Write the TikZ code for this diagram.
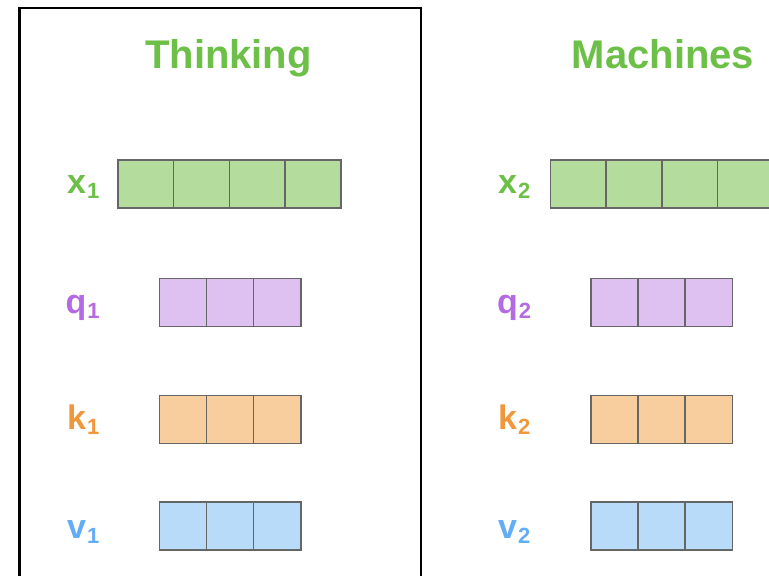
\documentclass[tikz,border=0pt]{standalone}
\usepackage{fontspec}
\setmainfont{Liberation Sans}

\definecolor{xtext}{HTML}{6CBF47}
\definecolor{xfill}{HTML}{B3DC9D}
\definecolor{qtext}{HTML}{B36AE2}
\definecolor{qfill}{HTML}{DFC1F1}
\definecolor{ktext}{HTML}{F0963B}
\definecolor{kfill}{HTML}{F8CE9F}
\definecolor{vtext}{HTML}{62ADF7}
\definecolor{vfill}{HTML}{B9DBFA}
\definecolor{cellborder}{HTML}{666666}

% subscript digit of a vector label
\newcommand\vecsub[1]{\kern1pt\raisebox{-5.5pt}{\fontsize{22}{22}\selectfont #1}}

\begin{document}
\begin{tikzpicture}[x=1pt,y=-1pt,
  title/.style={font=\fontsize{40}{48}\selectfont\bfseries, text=xtext, inner sep=0, anchor=base},
  veclabel/.style={font=\fontsize{34}{40}\selectfont\bfseries, inner sep=0, anchor=base west},
  cell/.style={draw=cellborder, line width=1.5pt, minimum height=48pt, inner sep=0, anchor=north west}]
\useasboundingbox (0,0) rectangle (769,576);
\clip (0,0) rectangle (769,576);

% word frame around the first token
\draw[line width=2.6pt] (19.5,8) rectangle (421,620);

% titles
\node[title] (t1) at (228.5,68) {Thinking};
\node[title] (t2) at (663,68) {Machines};

% embedding vectors (4 cells)
\foreach \name/\left/\fillc in {x1/117/xfill, x2/549.5/xfill}{
  \foreach \i in {0,...,3}{
    \node[cell, fill=\fillc, minimum width=55.8pt] (\name c\i) at ({\left+55.8*\i},159) {};
  }
}

% query, key and value vectors (3 cells)
\foreach \name/\left/\top/\fillc in {q1/158.5/277.5/qfill, k1/158.5/394.5/kfill, v1/158.5/501/vfill,
                                     q2/590/277.5/qfill, k2/590/394.5/kfill, v2/590/501/vfill}{
  \foreach \i in {0,...,2}{
    \node[cell, fill=\fillc, minimum width=47.2pt] (\name c\i) at ({\left+47.2*\i},\top) {};
  }
}

% labels
\node[veclabel, text=xtext] (lx1) at (67,193) {x\vecsub{1}};
\node[veclabel, text=qtext] (lq1) at (65.5,313) {q\vecsub{1}};
\node[veclabel, text=ktext] (lk1) at (67,429) {k\vecsub{1}};
\node[veclabel, text=vtext] (lv1) at (67,538) {v\vecsub{1}};

\node[veclabel, text=xtext] (lx2) at (498,193) {x\vecsub{2}};
\node[veclabel, text=qtext] (lq2) at (497,313) {q\vecsub{2}};
\node[veclabel, text=ktext] (lk2) at (498,429) {k\vecsub{2}};
\node[veclabel, text=vtext] (lv2) at (498,538) {v\vecsub{2}};
\end{tikzpicture}
\end{document}
